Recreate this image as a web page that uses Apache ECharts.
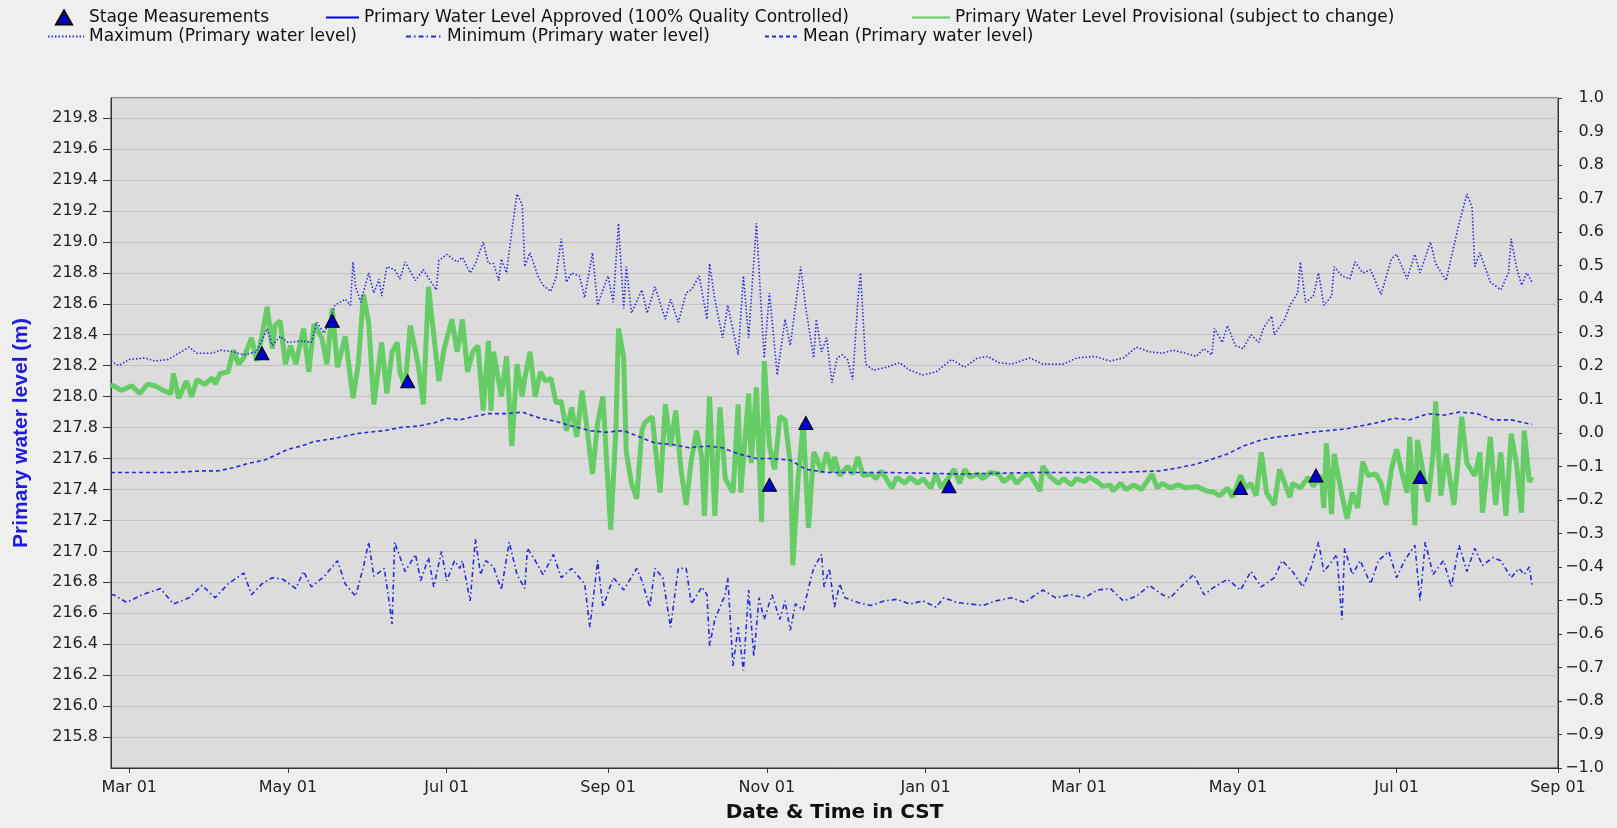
<!DOCTYPE html>
<html>
<head>
<meta charset="utf-8">
<script src="https://cdn.jsdelivr.net/npm/echarts@6/dist/echarts.min.js"></script>
<style>
html,body{margin:0;padding:0;background:#efefef;}
#chart{width:1617px;height:828px;}
</style>
</head>
<body>
<div id="chart"></div>
<script>
// x values are days since 2022-03-01 (first "Mar 01" on the axis)
const axisStartDay = -7;           // Feb 22
const axisEndDay = 549;            // Sep 01 of the following year
const monthTicks = [[2022,2],[2022,4],[2022,6],[2022,8],[2022,10],[2023,0],[2023,2],[2023,4],[2023,6],[2023,8]];
const monthNames = ['Jan','Feb','Mar','Apr','May','Jun','Jul','Aug','Sep','Oct','Nov','Dec'];

const maxLevel = [[-7,218.23],[-4,218.20],[0,218.24],[6,218.25],[10,218.23],[15,218.24],[20,218.29],[23,218.32],[26,218.28],[32,218.28],[35,218.30],[40,218.29],[44,218.27],[49,218.29],[53,218.44],[55,218.33],[58,218.39],[61,218.35],[66,218.36],[70,218.35],[72,218.48],[75,218.41],[79,218.59],[83,218.63],[85,218.59],[86,218.87],[87,218.71],[89,218.61],[92,218.80],[94,218.67],[96,218.76],[97,218.65],[99,218.84],[102,218.82],[104,218.76],[106,218.87],[110,218.75],[113,218.82],[116,218.74],[118,218.69],[119,218.88],[122,218.92],[126,218.87],
[128,218.90],[131,218.80],[133,218.86],[136,219.00],[138,218.86],[140,218.86],[142,218.75],[143,218.89],[145,218.80],[147,219.07],[149,219.31],[151,219.24],[152,218.84],[154,218.93],[157,218.78],[159,218.72],[162,218.68],[164,218.77],[166,219.02],[168,218.74],[170,218.80],[173,218.78],[175,218.64],[178,218.93],[180,218.59],[182,218.69],[184,218.78],[186,218.61],[188,219.12],[190,218.57],[191,218.84],[193,218.54],[197,218.69],[199,218.54],[202,218.71],[206,218.50],[208,218.63],[211,218.48],[214,218.67],[216,218.69],[219,218.78],[222,218.50],[223,218.86],[225,218.63],[228,218.38],[230,218.59],[234,218.27],[236,218.78],[238,218.38],[241,219.12],[243,218.52],[244,218.25],[246,218.67],[249,218.14],[252,218.50],[254,218.33],[258,218.84],[260,218.57],[263,218.25],[264,218.50],[266,218.29],[268,218.38],[270,218.09],[272,218.25],[274,218.27],[276,218.24],[278,218.11],[280,218.63],[281,218.80],[283,218.21],[286,218.17],[291,218.19],[296,218.22],[300,218.17],[305,218.14],[310,218.16],[316,218.24],[321,218.19],[326,218.25],[330,218.26],[334,218.22],[339,218.21],[346,218.25],[351,218.21],[359,218.21],[364,218.25],[371,218.26],[377,218.23],[382,218.25],[387,218.32],[392,218.29],[397,218.28],
[401,218.30],[406,218.28],[410,218.26],[413,218.31],[416,218.27],[417,218.44],[420,218.35],[422,218.46],[425,218.33],[428,218.31],[431,218.40],[434,218.35],[436,218.45],[439,218.52],[440,218.40],[444,218.50],[446,218.59],[449,218.67],[450,218.87],[452,218.61],[455,218.65],[457,218.80],[459,218.59],[462,218.65],[463,218.84],[466,218.78],[469,218.76],[471,218.87],[474,218.80],[477,218.82],[481,218.66],[485,218.89],[487,218.92],[491,218.76],[494,218.92],[496,218.80],[500,219.00],[502,218.86],[506,218.75],[508,218.90],[511,219.12],[514,219.31],[516,219.22],[517,218.84],[519,218.93],[523,218.74],[527,218.69],[530,218.80],[531,219.02],[533,218.84],[535,218.72],[537,218.80],[539,218.74]];

const meanLevel = [[-7,217.51],[17,217.51],[28,217.52],[34,217.52],[40,217.54],[46,217.57],[52,217.59],[56,217.62],[61,217.66],[66,217.68],[71,217.71],[79,217.73],[87,217.76],[92,217.77],[98,217.78],[104,217.80],[111,217.81],[117,217.83],[122,217.86],[127,217.85],[132,217.87],[138,217.89],[145,217.89],[151,217.90],[158,217.86],[164,217.84],[170,217.81],[177,217.78],[183,217.77],[190,217.78],[196,217.74],[202,217.70],[209,217.69],[215,217.67],[222,217.68],[228,217.67],[234,217.63],[241,217.60],[247,217.60],[254,217.59],[260,217.53],[268,217.51],[290,217.51],[320,217.50],[350,217.51],[380,217.51],[396,217.52],[403,217.54],[409,217.56],[415,217.59],[422,217.63],[428,217.68],[435,217.72],[441,217.74],[447,217.75],[454,217.77],[460,217.78],[467,217.79],[473,217.81],[479,217.83],[486,217.86],[492,217.85],[499,217.89],[505,217.88],[511,217.90],[518,217.89],[524,217.85],[531,217.85],[539,217.82]];

const minLevel = [[-7,216.72],[-6,216.72],[-1,216.67],[5,216.72],[12,216.76],[17,216.66],[23,216.70],[28,216.78],[33,216.70],[38,216.79],[44,216.86],[47,216.72],[51,216.79],[55,216.83],[59,216.82],[64,216.76],[67,216.87],[70,216.77],[75,216.84],[80,216.94],[83,216.79],[87,216.71],[90,216.90],[92,217.06],[94,216.84],[98,216.89],[100,216.66],[101,216.53],[102,217.06],[106,216.87],[110,216.98],[112,216.81],[115,216.96],[117,216.77],[120,217.00],[122,216.81],[125,216.94],[127,216.89],
[128,216.94],[131,216.68],[133,217.08],[135,216.85],[137,216.94],[140,216.90],[143,216.75],[146,217.06],[149,216.85],[152,216.76],[153,217.02],[156,216.94],[159,216.85],[163,216.98],[166,216.83],[170,216.89],[175,216.79],[177,216.51],[180,216.94],[182,216.64],[186,216.83],[190,216.75],[195,216.89],[197,216.81],[200,216.64],[202,216.89],[205,216.83],[208,216.51],[211,216.89],[214,216.89],[216,216.66],[220,216.77],[222,216.72],[223,216.39],[225,216.56],[227,216.64],[229,216.72],[230,216.83],[232,216.26],[234,216.51],[236,216.23],[238,216.75],[240,216.32],[242,216.70],[244,216.56],[247,216.72],[250,216.56],[252,216.68],[254,216.49],[256,216.66],[259,216.62],[262,216.83],[263,216.89],[266,216.98],[267,216.77],[269,216.89],[271,216.64],[273,216.79],[275,216.70],[280,216.67],[285,216.65],[290,216.68],[295,216.69],[300,216.66],[305,216.68],[310,216.64],[313,216.70],[318,216.67],[323,216.66],[328,216.65],[333,216.68],[339,216.70],[344,216.67],[351,216.75],[356,216.70],[362,216.72],[367,216.70],[372,216.75],[377,216.76],[382,216.68],[387,216.71],[392,216.78],[397,216.72],
[400,216.70],[404,216.77],[409,216.85],[413,216.72],[417,216.77],[422,216.82],[427,216.75],[431,216.87],[435,216.77],[440,216.83],[443,216.94],[447,216.87],[451,216.77],[454,216.89],[457,217.06],[459,216.87],[461,216.91],[464,216.98],[466,216.56],[467,217.02],[470,216.85],[473,216.94],[477,216.79],[480,216.94],[484,217.00],[487,216.83],[490,216.94],[494,217.04],[496,216.68],[498,217.06],[501,216.85],[505,216.94],[508,216.77],[511,217.04],[514,216.87],[517,217.02],[520,216.91],[524,216.96],[527,216.94],[531,216.83],[534,216.89],[536,216.85],[538,216.90],[539,216.78]];

const provisionalLevel = [[-7,218.07],[-6,218.07],[-3,218.04],[1,218.07],[4,218.02],[7,218.08],[10,218.07],[13,218.04],[16,218.02],[17,218.15],[19,217.99],[22,218.10],[24,218.00],[26,218.11],[29,218.08],[32,218.12],[33,218.08],[35,218.15],[38,218.16],[40,218.30],[42,218.21],[44,218.25],[47,218.38],[49,218.23],[51,218.39],[53,218.58],[55,218.31],[56,218.46],[58,218.49],[60,218.21],[62,218.33],[64,218.21],[67,218.44],[69,218.16],[71,218.47],[74,218.38],[76,218.21],[78,218.57],[80,218.19],[83,218.39],[86,217.99],[88,218.21],[90,218.66],[92,218.48],[94,217.95],[97,218.35],[99,218.02],[101,218.29],[103,218.35],[104,218.16],[106,218.06],[108,218.46],[111,218.21],[113,217.95],[115,218.71],[117,218.40],[119,218.10],[121,218.31],[124,218.50],[126,218.29],[127,218.38],
[128,218.50],[130,218.16],[132,218.29],[134,218.33],[136,217.91],[138,218.36],[139,217.91],[140,218.29],[143,218.00],[145,218.26],[147,217.68],[149,218.21],[151,218.00],[152,218.12],[154,218.29],[156,218.00],[158,218.16],[160,218.10],[162,218.12],[164,217.96],[166,217.97],[168,217.78],[170,217.93],[172,217.74],[174,218.04],[176,217.78],[178,217.50],[180,217.83],[182,218.00],[185,217.14],[187,217.78],[188,218.44],[190,218.25],[191,217.64],[193,217.44],[195,217.34],[197,217.78],[198,217.83],[201,217.87],[203,217.53],[204,217.38],[206,217.95],[208,217.68],[210,217.91],[212,217.53],[214,217.30],[216,217.59],[218,217.78],[220,217.61],[221,217.23],[223,218.00],[225,217.23],[227,217.93],[229,217.47],[232,217.38],[234,217.95],[235,217.38],[238,218.02],[239,217.57],[241,218.06],[243,217.19],[244,218.23],[246,217.68],[248,217.53],[250,217.87],[252,217.85],[254,217.57],[255,216.91],[257,217.47],[259,217.83],[261,217.15],[263,217.64],
[264,217.61],[266,217.51],[268,217.64],[270,217.51],[271,217.61],[273,217.49],[276,217.55],[278,217.50],[280,217.61],[282,217.49],[285,217.50],[287,217.47],[289,217.52],[293,217.41],[295,217.48],[298,217.44],[300,217.48],[303,217.44],[305,217.47],[308,217.41],[310,217.50],[312,217.41],[317,217.53],[319,217.44],[321,217.53],[323,217.48],[326,217.50],[328,217.47],[331,217.51],[334,217.50],[336,217.45],[339,217.49],[341,217.44],[344,217.49],[346,217.50],[350,217.39],[351,217.55],[354,217.48],[357,217.44],[359,217.47],[362,217.43],[364,217.47],[367,217.45],[369,217.48],[372,217.45],[374,217.42],[377,217.43],[378,217.39],[381,217.44],[383,217.40],[386,217.43],[389,217.40],[391,217.45],[393,217.50],[395,217.41],[397,217.44],[400,217.41],
[403,217.43],[406,217.41],[410,217.42],[414,217.39],[417,217.38],[419,217.36],[422,217.41],[424,217.35],[427,217.49],[429,217.41],[431,217.44],[433,217.36],[435,217.64],[437,217.38],[440,217.30],[442,217.53],[444,217.44],[446,217.35],[447,217.44],[450,217.41],[453,217.48],[455,217.42],[458,217.49],[459,217.28],[460,217.70],[462,217.24],[463,217.63],[466,217.36],[468,217.21],[470,217.38],[472,217.28],[474,217.58],[476,217.49],[479,217.50],[481,217.44],[483,217.30],[485,217.53],[487,217.66],[489,217.51],[491,217.38],[492,217.74],[494,217.17],[495,217.72],[497,217.53],[499,217.32],[501,217.63],[502,217.97],[504,217.36],[506,217.63],[509,217.30],[511,217.66],[512,217.87],[514,217.57],[517,217.49],[519,217.64],[520,217.25],[523,217.74],[525,217.30],[527,217.64],[529,217.23],[531,217.76],[533,217.57],[535,217.25],[536,217.78],[538,217.45],[539,217.48]];

const stageMeasurements = [[51,218.28],[78,218.49],[107,218.10],[246,217.43],[260,217.83],[315,217.42],[427,217.41],[456,217.49],[496,217.48]];

const approvedLevel = [];

const leftTicks = {min:215.6, max:219.93, interval:0.2};
const rightTicks = {min:-1, max:1, interval:0.1};

function dayToTime(d){ return new Date(2022, 2, 1 + d).getTime(); }
function toXY(arr){ return arr.map(p => [dayToTime(p[0]), p[1]]); }

const BLUE = '#2a2ad8';
const FONT = 'DejaVu Sans';
const chart = echarts.init(document.getElementById('chart'), null, {renderer:'canvas'});

const tickTimes = monthTicks.map(m => new Date(m[0], m[1], 1).getTime());

function legendAt(name, left, top, w, isLine, textPad){
  return {
    show:true, orient:'horizontal', left:left, top:top, padding:0,
    itemWidth:w, itemHeight:14, itemGap:0, selectedMode:false,
    data:[isLine ? {name:name, itemStyle:{opacity:0}} : {name:name, icon:'triangle'}],
    textStyle:{fontFamily:FONT, fontSize:17, color:'#111', lineHeight:17, padding:[0,0,0,textPad||0]}
  };
}

const option = {
  backgroundColor:'#efefef',
  animation:false,
  legend:[
    legendAt('Stage Measurements', 55, 9, 16, false, 12),
    legendAt('Primary Water Level Approved (100% Quality Controlled)', 325, 9, 33, true),
    legendAt('Primary Water Level Provisional (subject to change)', 911, 9, 38, true),
    legendAt('Maximum (Primary water level)', 47, 28, 36, true),
    legendAt('Minimum (Primary water level)', 405, 28, 36, true),
    legendAt('Mean (Primary water level)', 764, 28, 33, true)
  ],
  grid:{left:111, right:59, top:98, bottom:51, show:true, backgroundColor:'#dcdcdc', borderColor:'#333', borderWidth:1, containLabel:false},
  xAxis:{
    type:'value',
    min:dayToTime(axisStartDay), max:dayToTime(axisEndDay),
    name:'Date & Time in CST', nameLocation:'middle', nameGap:35,
    nameTextStyle:{fontFamily:FONT, fontWeight:'bold', fontSize:20, color:'#111'},
    axisLine:{show:true, onZero:false, lineStyle:{color:'#333', width:1}},
    axisTick:{show:true, customValues:tickTimes, length:5, lineStyle:{color:'#333'}},
    axisLabel:{customValues:tickTimes, margin:12, fontFamily:FONT, fontSize:16, color:'#222', hideOverlap:false,
      formatter:function(v){ const d=new Date(v); return monthNames[d.getMonth()] + ' ' + String(d.getDate()).padStart(2,'0'); }},
    splitLine:{show:false}
  },
  yAxis:[
    {
      type:'value', position:'left', min:leftTicks.min, max:leftTicks.max, interval:leftTicks.interval,
      name:'Primary water level (m)', nameLocation:'middle', nameGap:79, nameRotate:90,
      nameTextStyle:{fontFamily:"'Liberation Sans Narrow', 'Liberation Sans', sans-serif", fontWeight:'bold', fontSize:21, color:'#1e1ed8'},
      axisLine:{show:true, lineStyle:{color:'#333'}},
      axisTick:{show:true, length:8, lineStyle:{color:'#333'}},
      axisLabel:{margin:13, fontFamily:FONT, fontSize:16, color:'#222', showMinLabel:false, showMaxLabel:false,
        formatter:function(v){ return v.toFixed(1); }},
      splitLine:{show:true, lineStyle:{color:'#c2c2c2', width:1}}
    },
    {
      type:'value', position:'right', min:rightTicks.min, max:rightTicks.max, interval:rightTicks.interval, alignTicks:false,
      axisLine:{show:true, lineStyle:{color:'#333'}},
      axisTick:{show:true, length:4, lineStyle:{color:'#333'}},
      axisLabel:{margin:46, align:'right', fontFamily:FONT, fontSize:16, color:'#222',
        formatter:function(v){ const r=Math.round(v*10)/10; return r<0 ? '\u2212' + Math.abs(r).toFixed(1) : r.toFixed(1); }},
      splitLine:{show:false}
    }
  ],
  series:[
    {name:'Primary Water Level Provisional (subject to change)', type:'line', yAxisIndex:0, data:toXY(provisionalLevel),
      symbol:'none', showSymbol:false, lineStyle:{color:'#66cc66', width:5}, itemStyle:{color:'#66cc66'}, z:2},
    {name:'Primary Water Level Approved (100% Quality Controlled)', type:'line', yAxisIndex:0, data:toXY(approvedLevel),
      symbol:'none', showSymbol:false, lineStyle:{color:'#0000ee', width:3}, itemStyle:{color:'#0000ee'}, z:3},
    {name:'Maximum (Primary water level)', type:'line', yAxisIndex:0, data:toXY(maxLevel),
      symbol:'none', showSymbol:false, lineStyle:{color:BLUE, width:1.6, type:[1.5,2]}, itemStyle:{color:BLUE}, z:4},
    {name:'Minimum (Primary water level)', type:'line', yAxisIndex:0, data:toXY(minLevel),
      symbol:'none', showSymbol:false, lineStyle:{color:BLUE, width:1.6, type:[5,3,1.5,3]}, itemStyle:{color:BLUE}, z:4},
    {name:'Mean (Primary water level)', type:'line', yAxisIndex:0, data:toXY(meanLevel),
      symbol:'none', showSymbol:false, lineStyle:{color:BLUE, width:1.6, type:[4,3]}, itemStyle:{color:BLUE}, z:4},
    {name:'Stage Measurements', type:'scatter', yAxisIndex:0, data:toXY(stageMeasurements),
      symbol:'triangle', symbolSize:[14,13], itemStyle:{color:'#0000cc', borderColor:'#000', borderWidth:1, opacity:1}, z:6}
  ]
};
chart.setOption(option);
</script>
</body>
</html>
